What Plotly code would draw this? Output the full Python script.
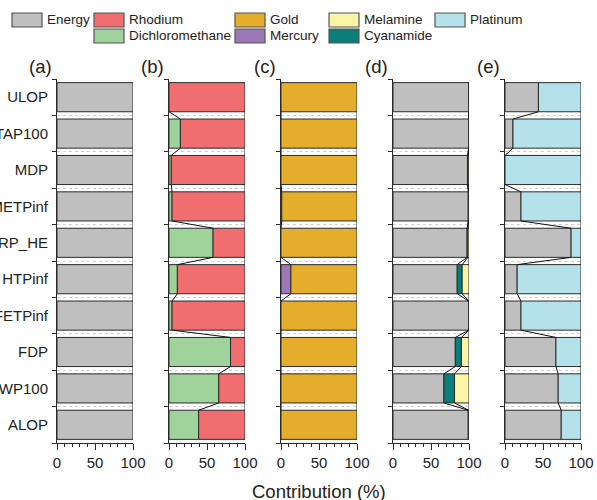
import plotly.graph_objects as go

categories = ["ULOP", "TAP100", "MDP", "METPinf", "IRP_HE", "HTPinf", "FETPinf", "FDP", "GWP100", "ALOP"]
tick_vals_x = [0, 50, 100]

# Panel (a)
a_energy = [100, 100, 100, 100, 100, 100, 100, 100, 100, 100]
# Panel (b)
b_dichloromethane = [0, 15, 3, 4, 58, 11, 4, 81, 65.5, 39]
b_rhodium = [100, 85, 97, 96, 42, 89, 96, 19, 34.5, 61]
# Panel (c)
c_mercury = [0, 0, 0, 1, 0, 13, 0, 0, 0, 0]
c_gold = [100, 100, 100, 99, 100, 87, 100, 100, 100, 100]
# Panel (d)
d_energy = [100, 99.5, 98, 99, 97.5, 84.5, 99.5, 82, 67, 99]
d_cyanamide = [0, 0.2, 1, 0.5, 1, 6.5, 0.2, 8, 14, 0.5]
d_melamine = [0, 0.3, 1, 0.5, 1.5, 9, 0.3, 10, 19, 0.5]
# Panel (e)
e_energy = [44, 10.5, 0, 21, 87, 16, 21, 67, 70, 74]
e_platinum = [56, 89.5, 100, 79, 13, 84, 79, 33, 30, 26]

colors = {
    "Energy": "#bfbfbf",
    "Rhodium": "#f06d70",
    "Dichloromethane": "#9fd39b",
    "Gold": "#e4ad2b",
    "Mercury": "#9c79b6",
    "Melamine": "#faf5a7",
    "Cyanamide": "#0c7e7a",
    "Platinum": "#b5e1ea",
}

panels = [
    ("(a)", [("Energy", a_energy)]),
    ("(b)", [("Dichloromethane", b_dichloromethane), ("Rhodium", b_rhodium)]),
    ("(c)", [("Mercury", c_mercury), ("Gold", c_gold)]),
    ("(d)", [("Energy", d_energy), ("Cyanamide", d_cyanamide), ("Melamine", d_melamine)]),
    ("(e)", [("Energy", e_energy), ("Platinum", e_platinum)]),
]

W, H = 597, 500
ML, MR, MT, MB = 57, 16, 79, 57
PW = W - ML - MR
PH = H - MT - MB
panel_px = [57, 169, 281, 393, 505]
panel_w = 76

n = len(categories)
ypos = [n - 1 - i for i in range(n)]
BW = 0.8
FONT = "Liberation Sans, Arial, sans-serif"
LINE = "#2b2b2b"

fig = go.Figure()
layout = {}
for p, (label, segs) in enumerate(panels):
    suf = "" if p == 0 else str(p + 1)
    xa, ya = "x" + suf, "y" + suf
    cum = [0.0] * n
    cums = []
    for name, vals in segs:
        fig.add_trace(go.Bar(
            x=vals, y=ypos, orientation="h", width=BW, base=cum[:],
            marker=dict(color=colors[name], line=dict(color=LINE, width=1)),
            xaxis=xa, yaxis=ya, showlegend=False, name=name,
        ))
        cum = [c + v for c, v in zip(cum, vals)]
        cums.append(cum[:])
    # connector lines between consecutive bars
    lx, ly = [], []
    for cvals in cums:
        for i in range(n - 1):
            lx += [cvals[i], cvals[i + 1], None]
            ly += [ypos[i] - BW / 2, ypos[i + 1] + BW / 2, None]
    fig.add_trace(go.Scatter(x=lx, y=ly, mode="lines", line=dict(color="#111", width=1),
                             xaxis=xa, yaxis=ya, showlegend=False, hoverinfo="skip"))
    d0 = (panel_px[p] - ML) / PW
    d1 = (panel_px[p] + panel_w - ML) / PW
    layout["xaxis" + suf] = dict(
        domain=[d0, d1], anchor=ya, range=[0, 100], tickvals=tick_vals_x,
        ticks="outside", ticklen=6, tickwidth=1, tickcolor=LINE, automargin=False,
        showline=True, linecolor=LINE, linewidth=1, showgrid=False, zeroline=False,
        tickfont=dict(size=15, color="#222", family=FONT),
        minor=dict(ticks="outside", dtick=10, tick0=0, ticklen=3, tickcolor=LINE, showgrid=False),
    )
    layout["yaxis" + suf] = dict(
        domain=[0, 1], anchor=xa, range=[-0.5, n - 0.5], automargin=False,
        tickvals=ypos, ticktext=categories if p == 0 else [""] * n,
        showticklabels=(p == 0), ticks="",
        showline=True, linecolor=LINE, linewidth=1, showgrid=False, zeroline=False,
        tickfont=dict(size=15, color="#222", family=FONT), ticklabelstandoff=5,
        minor=dict(ticks="outside", tick0=-0.5, dtick=1, ticklen=4, tickcolor=LINE,
                   showgrid=True, gridcolor="#d0d0d0", griddash="dot", gridwidth=1),
    )
    fig.add_annotation(text=label, x=(panel_px[p] - ML - 3) / PW, y=(H - MB - 67) / PH,
                       xref="paper", yref="paper", xanchor="right", yanchor="middle",
                       showarrow=False, font=dict(size=18.5, color="#222", family=FONT))

# axis title
fig.add_annotation(text="Contribution (%)", x=(319 - ML) / PW, y=(H - MB - 491) / PH,
                   xref="paper", yref="paper", xanchor="center", yanchor="middle",
                   showarrow=False, font=dict(size=18.5, color="#222", family=FONT))

# legend drawn manually
legend_items = [
    ("Energy", 12, 20), ("Rhodium", 94, 20), ("Dichloromethane", 94, 36),
    ("Gold", 235, 20), ("Mercury", 235, 36), ("Melamine", 329, 20),
    ("Cyanamide", 329, 36), ("Platinum", 435, 20),
]

def px_x(px):
    return (px - ML) / PW

def px_y(py):
    return (H - MB - py) / PH

for name, bx, cy in legend_items:
    fig.add_shape(type="rect", xref="paper", yref="paper",
                  x0=px_x(bx), x1=px_x(bx + 30), y0=px_y(cy + 7), y1=px_y(cy - 7),
                  fillcolor=colors[name], line=dict(color="#555", width=1.2))
    fig.add_annotation(text=name, x=px_x(bx + 33), y=px_y(cy), xref="paper", yref="paper",
                       xanchor="left", yanchor="middle", showarrow=False,
                       font=dict(size=13.5, color="#222", family=FONT))

fig.update_layout(
    width=W, height=H, barmode="overlay",
    margin=dict(l=ML, r=MR, t=MT, b=MB, autoexpand=False),
    paper_bgcolor="white", plot_bgcolor="white",
    font=dict(family=FONT, size=15, color="#222"),
    showlegend=False, **layout,
)

fig.write_html("out.html", config={"displayModeBar": False},
               post_script="document.body.style.margin='0';document.body.style.overflow='hidden';")
